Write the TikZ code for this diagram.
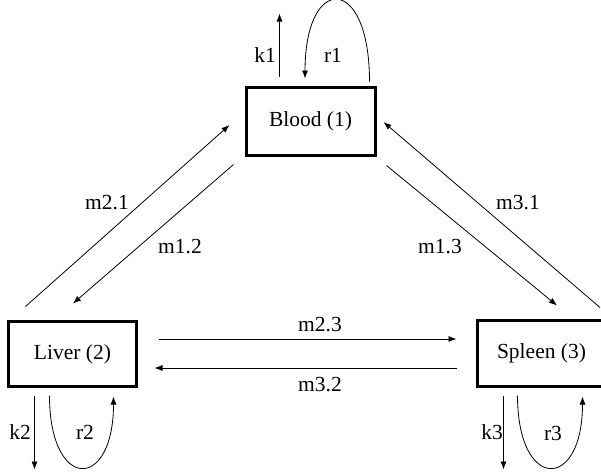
\documentclass[tikz,border=0pt]{standalone}
\usepackage{fontspec}
\setmainfont{Liberation Serif}
\usetikzlibrary{arrows.meta,calc}
\begin{document}
\begin{tikzpicture}[x=1pt,y=-1pt,
  compartment/.style={draw,line width=3pt,rectangle,inner sep=0pt,font=\fontsize{21.5}{24}\selectfont},
  flow/.style={line width=0.8pt,-{Latex[length=8pt,width=6pt]}},
  rate/.style={inner sep=0pt,font=\fontsize{21.5}{24}\selectfont}]
\useasboundingbox (0,0) rectangle (601,472);

% compartments
\node[compartment,minimum width=129pt,minimum height=68pt] (blood) at (310.5,121) {Blood (1)};
\node[compartment,minimum width=128pt,minimum height=65pt] (liver) at (72.5,354) {Liver (2)};
\node[compartment,minimum width=128pt,minimum height=66pt] (spleen) at (541.5,353.5) {Spleen (3)};

% elimination and recirculation at blood
\draw[flow] ($(blood.north west)+(35,-9)$) -- ++(0,-63);
\draw[flow] ($(blood.north east)+(-7,-4)$) .. controls +(0,-108) and +(0,-105) .. ($(blood.north)+(-5.5,-7)$);

% exchange blood <-> liver
\draw[flow] ($(liver.north west)+(18.5,-13.5)$) -- ($(blood.west)+(-15,4)$);
\draw[flow] ($(blood.south west)+(-11,8)$) -- ($(liver.north)+(0.5,-16.5)$);

% exchange blood <-> spleen
\draw[flow] ($(spleen.north)+(58.5,-11.5)$) -- ($(blood.east)+(7,1)$);
\draw[flow] ($(blood.south east)+(10,9)$) -- ($(spleen.north)+(15.5,-13.5)$);

% exchange liver <-> spleen
\draw[flow] ($(liver.east)+(20.5,-15)$) -- ($(spleen.west)+(-19.5,-14.5)$);
\draw[flow] ($(spleen.west)+(-19.5,14.5)$) -- ($(liver.east)+(16.5,14)$);

% elimination and recirculation at liver
\draw[flow] ($(liver.south west)+(27.5,7.5)$) -- ++(0,74);
\draw[flow] ($(liver.south west)+(42.5,7.5)$) .. controls +(0,96) and +(0,95) .. ($(liver.south west)+(106.5,8.5)$);

% elimination and recirculation at spleen
\draw[flow] ($(spleen.south west)+(27.5,7.5)$) -- ++(0,74);
\draw[flow] ($(spleen.south west)+(41.5,7.5)$) .. controls +(0,96) and +(0,95) .. ($(spleen.south west)+(106.5,8.5)$);

% rate labels
\node[rate] (k1) at (265,55) {k1};
\node[rate] (r1) at (333,55) {r1};
\node[rate] (k2) at (20,432) {k2};
\node[rate] (r2) at (85,432) {r2};
\node[rate] (k3) at (492,432) {k3};
\node[rate] (r3) at (553,433) {r3};
\node[rate] (m21) at (107,203) {m2.1};
\node[rate] (m12) at (180,247) {m1.2};
\node[rate] (m31) at (518,203) {m3.1};
\node[rate] (m13) at (440,247) {m1.3};
\node[rate] (m23) at (320,325) {m2.3};
\node[rate] (m32) at (320,385) {m3.2};
\end{tikzpicture}
\end{document}
